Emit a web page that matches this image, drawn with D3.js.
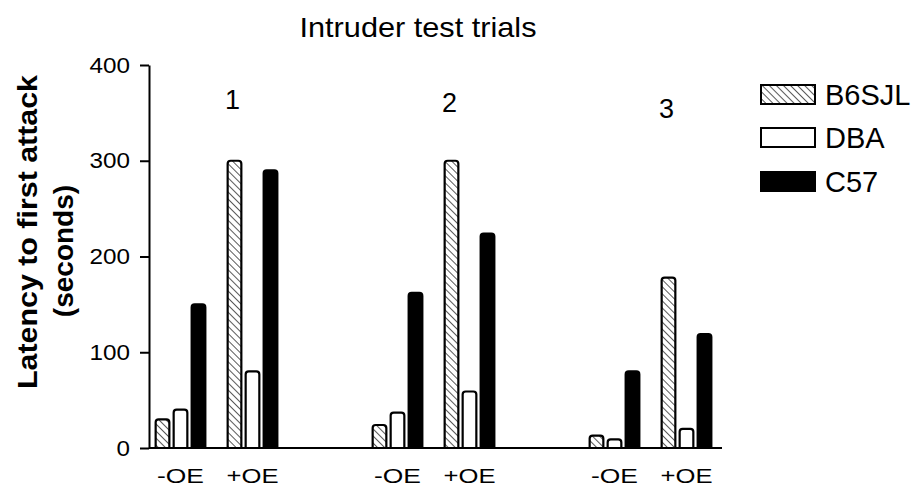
<!DOCTYPE html>
<html>
<head>
<meta charset="utf-8">
<script src="https://cdn.jsdelivr.net/npm/d3@7"></script>
<style>
  body { margin: 0; background: #fff; }
  svg { display: block; }
  text { font-family: "Liberation Sans", Arial, Helvetica, sans-serif; fill: #000; }
</style>
</head>
<body>
<div id="chart"></div>
<script>

//////////////////
// Data
//////////////////

var trials = ["1", "2", "3"];
var conditions = ["-OE", "+OE"];
var strains = ["B6SJL", "DBA", "C57"];
var yTicks = [0, 100, 200, 300, 400];

// latency (s), ordered trial1 -OE, trial1 +OE, trial2 -OE, ...
var b6sjlValues = [30, 300, 24, 300, 13, 178];
var dbaValues = [40, 80, 37, 59, 9, 20];
var c57Values = [150, 290, 162, 224, 80, 119];

var seriesValues = { "B6SJL": b6sjlValues, "DBA": dbaValues, "C57": c57Values };

//////////////////
// Layout
//////////////////

var width = 918, height = 487;

var svg = d3.select("#chart").append("svg")
    .attr("width", width)
    .attr("height", height);

// hatch pattern for B6SJL
var defs = svg.append("defs");
defs.append("pattern")
    .attr("id", "hatch")
    .attr("patternUnits", "userSpaceOnUse")
    .attr("width", 5)
    .attr("height", 5)
    .attr("patternTransform", "rotate(-45)")
  .append("line")
    .attr("x1", 0).attr("y1", -1)
    .attr("x2", 0).attr("y2", 6)
    .attr("stroke", "#000")
    .attr("stroke-width", 1.3);

var fills = { "B6SJL": "url(#hatch)", "DBA": "#fff", "C57": "#000" };

// scales
var y = d3.scaleLinear().domain([0, 400]).range([448, 65]);

var xTrial = d3.scaleBand().domain(trials).range([108, 759]);
var xCond = d3.scaleBand().domain(conditions).range([36.5, 180.5]);
var xStrain = d3.scaleBand().domain(strains).range([-27, 27])
    .paddingInner(0.24).paddingOuter(0.12);

function condCenter(t, c) {
    return xTrial(t) + xCond(c) + xCond.bandwidth() / 2;
}

// flatten into rows
var rows = [];
trials.forEach(function(t, ti) {
    conditions.forEach(function(c, ci) {
        strains.forEach(function(s) {
            rows.push({ trial: t, cond: c, strain: s, value: seriesValues[s][ti * 2 + ci] });
        });
    });
});

// bar with slightly rounded top
function barPath(d) {
    var x0 = condCenter(d.trial, d.cond) + xStrain(d.strain);
    var x1 = x0 + xStrain.bandwidth();
    var y0 = y(0), yt = y(d.value), r = 3;
    return "M" + x0 + "," + y0 +
        "L" + x0 + "," + (yt + r) +
        "Q" + x0 + "," + yt + " " + (x0 + r) + "," + yt +
        "L" + (x1 - r) + "," + yt +
        "Q" + x1 + "," + yt + " " + x1 + "," + (yt + r) +
        "L" + x1 + "," + y0 + "Z";
}

svg.append("g").attr("class", "bars")
    .selectAll("path")
    .data(rows)
    .enter()
    .append("path")
        .attr("d", barPath)
        .attr("fill", function(d) { return fills[d.strain]; })
        .attr("stroke", "#000")
        .attr("stroke-width", 2.2);

//////////////////
// Axes
//////////////////

var yAxis = svg.append("g")
    .attr("transform", "translate(149,0)")
    .call(d3.axisLeft(y).tickValues(yTicks).tickSize(9).tickPadding(10).tickSizeOuter(0));

yAxis.select(".domain").attr("stroke-width", 2);
yAxis.selectAll(".tick line").attr("stroke-width", 2);
yAxis.selectAll(".tick text")
    .attr("font-size", 22)
    .attr("font-family", "Liberation Sans, Arial, sans-serif")
    .attr("textLength", function(d) { return String(d).length * 13.5; })
    .attr("lengthAdjust", "spacingAndGlyphs");

// x baseline
svg.append("line")
    .attr("x1", 149).attr("x2", 722)
    .attr("y1", y(0)).attr("y2", y(0))
    .attr("stroke", "#000")
    .attr("stroke-width", 2);

// condition labels
var condLabels = [];
trials.forEach(function(t) {
    conditions.forEach(function(c) { condLabels.push({ trial: t, cond: c }); });
});

svg.append("g").selectAll("text")
    .data(condLabels)
    .enter()
    .append("text")
        .attr("x", function(d) { return condCenter(d.trial, d.cond); })
        .attr("y", 483)
        .attr("text-anchor", "middle")
        .attr("font-size", 20)
        .attr("textLength", function(d) { return d.cond === "-OE" ? 47 : 52; })
        .attr("lengthAdjust", "spacingAndGlyphs")
        .text(function(d) { return d.cond; });

// trial numbers
var trialLabelY = [109, 112, 118];
svg.append("g").selectAll("text")
    .data(trials)
    .enter()
    .append("text")
        .attr("x", function(d) { return xTrial(d) + xTrial.bandwidth() / 2 + 16; })
        .attr("y", function(d, i) { return trialLabelY[i]; })
        .attr("text-anchor", "middle")
        .attr("font-size", 27)
        .text(function(d) { return d; });

// title
svg.append("text")
    .attr("x", 418)
    .attr("y", 37)
    .attr("text-anchor", "middle")
    .attr("font-size", 28)
    .attr("textLength", 237)
    .attr("lengthAdjust", "spacingAndGlyphs")
    .text("Intruder test trials");

// y axis title
svg.append("text")
    .attr("transform", "translate(37,232) rotate(-90)")
    .attr("text-anchor", "middle")
    .attr("font-size", 28)
    .attr("font-weight", "bold")
    .attr("textLength", 314)
    .attr("lengthAdjust", "spacingAndGlyphs")
    .text("Latency to first attack");

svg.append("text")
    .attr("transform", "translate(73,251) rotate(-90)")
    .attr("text-anchor", "middle")
    .attr("font-size", 28)
    .attr("font-weight", "bold")
    .text("(seconds)");

//////////////////
// Legend
//////////////////

var legendTop = [84, 127, 171];

var legend = svg.append("g").selectAll("g")
    .data(strains)
    .enter()
    .append("g")
        .attr("transform", function(d, i) { return "translate(760," + legendTop[i] + ")"; });

legend.append("rect")
    .attr("x", 1).attr("y", 1)
    .attr("width", 54).attr("height", 19)
    .attr("fill", function(d) { return fills[d]; })
    .attr("stroke", "#000")
    .attr("stroke-width", 2);

legend.append("text")
    .attr("x", 65)
    .attr("y", 21)
    .attr("font-size", 29)
    .text(function(d) { return d; });

</script>
</body>
</html>
